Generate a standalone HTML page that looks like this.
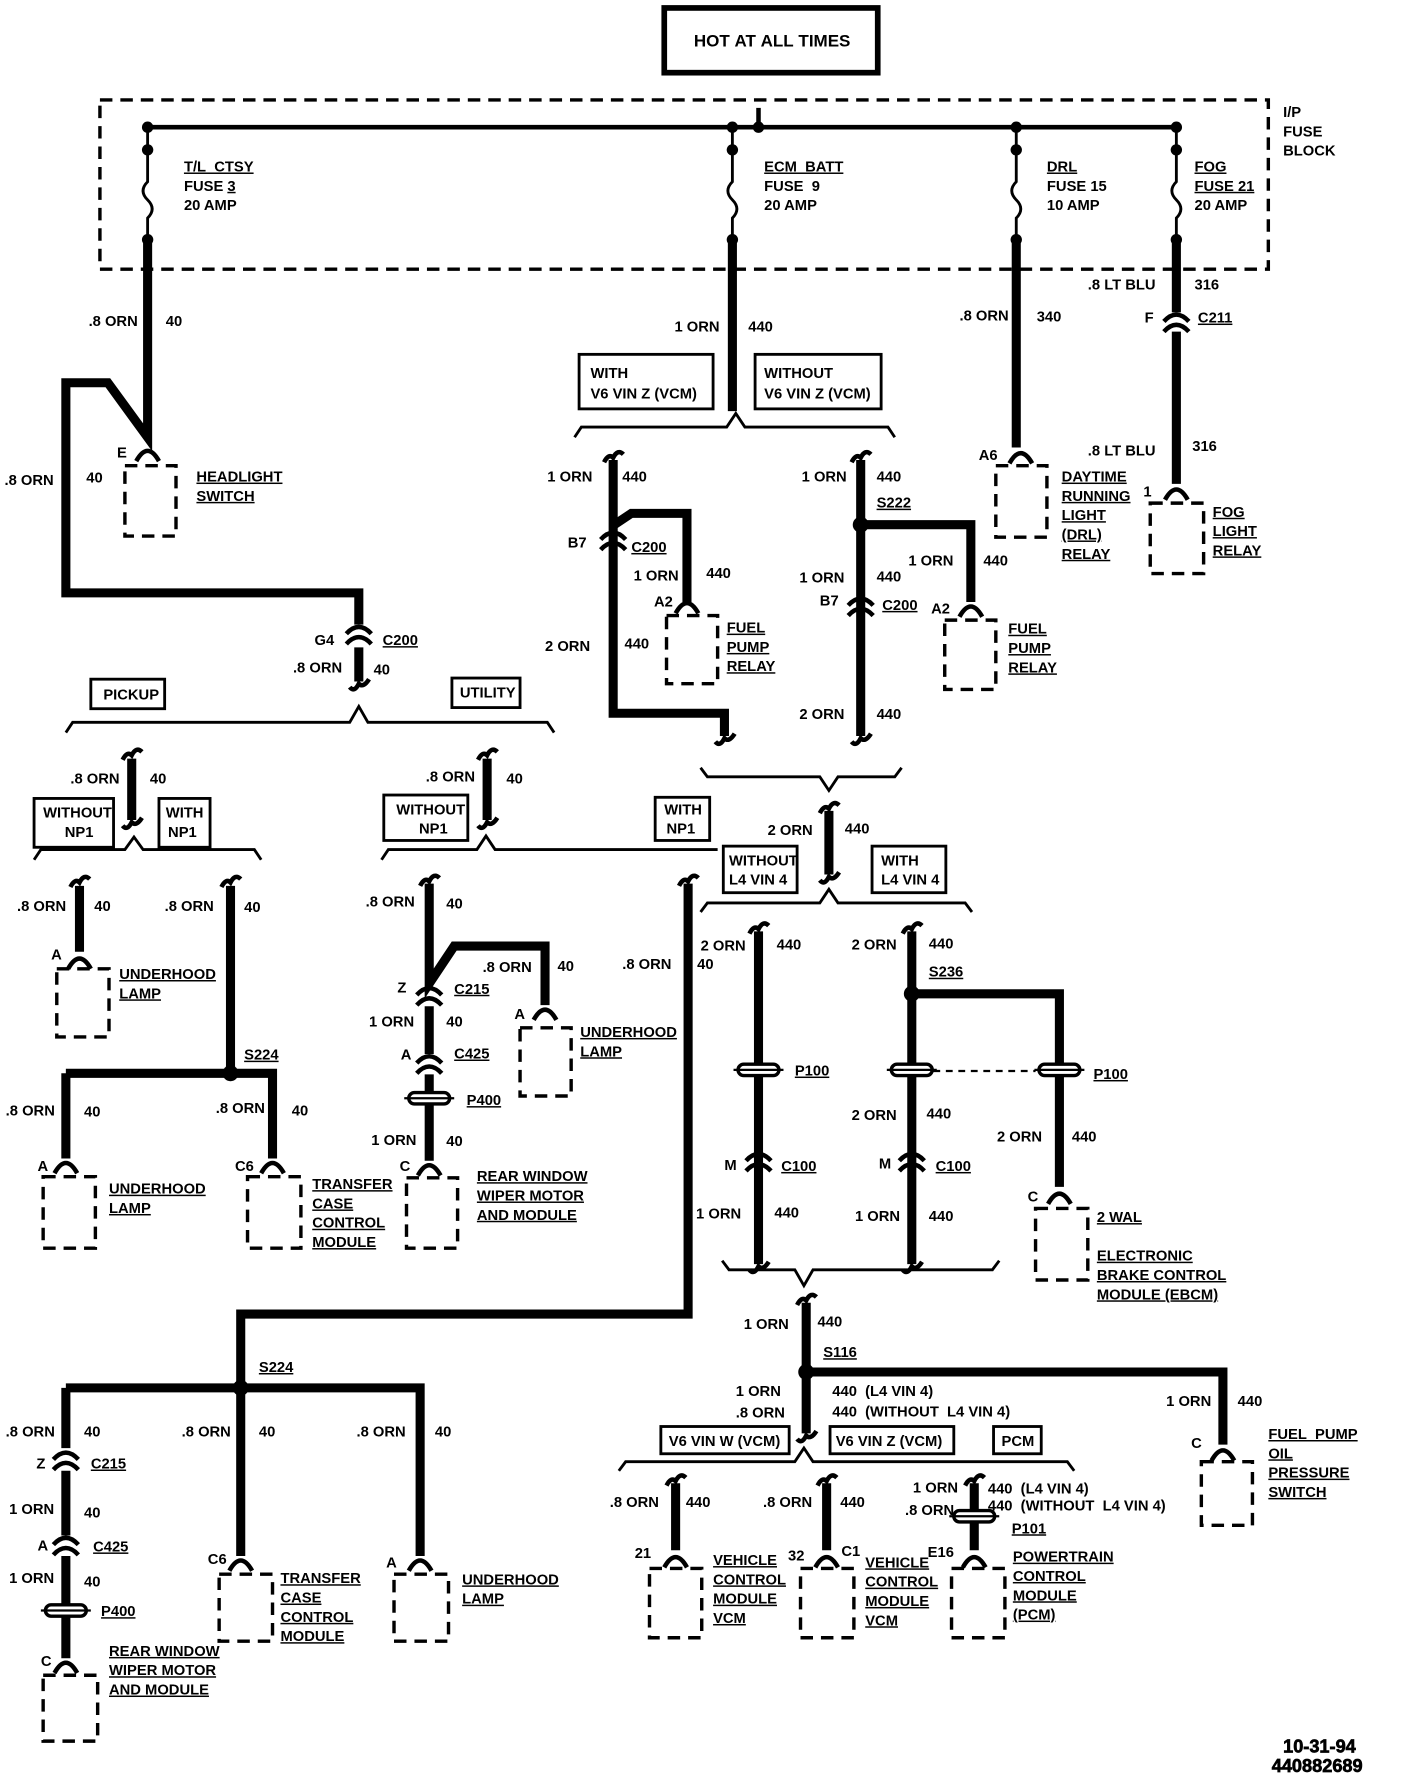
<!DOCTYPE html>
<html><head><meta charset="utf-8"><style>
html,body{margin:0;padding:0;background:#fff;}
svg{display:block;}
text{font-family:"Liberation Sans",Arial,sans-serif;font-weight:bold;font-size:13px;fill:#000;}
.u{text-decoration:underline;}
.w{stroke:#000;stroke-width:8;fill:none;}
.t{stroke:#000;stroke-width:2.5;fill:none;}
.b{stroke:#000;stroke-width:3;fill:none;stroke-dasharray:11,7;}
.bx{stroke:#000;stroke-width:2.5;fill:#fff;}
</style></head><body>
<svg width="1408" height="1782" viewBox="0 0 1240 1569" preserveAspectRatio="none" xmlns="http://www.w3.org/2000/svg">
<defs>
<g id="term"><path d="M-10,8 Q0,-10 10,8" stroke="#000" stroke-width="4" fill="#fff"/></g>
<g id="conn"><path d="M-11,0 Q0,-12 11,0 M-11,9 Q0,-3 11,9" stroke="#000" stroke-width="4" fill="none"/></g>
<g id="plug"><rect x="-18" y="-5" width="36" height="10" rx="5" fill="#fff" stroke="#000" stroke-width="3"/><line x1="-22" y1="0" x2="22" y2="0" stroke="#000" stroke-width="2"/></g>
<g id="hook"><path d="M-8,4 Q-4,-4 0,0 Q4,-8 9,-3" stroke="#000" stroke-width="4" fill="none"/></g>
<g id="hookb"><path d="M-8,3 Q-4,8 0,0 Q4,4 9,-4" stroke="#000" stroke-width="4" fill="none"/></g>
</defs>

<rect x="585" y="7" width="188" height="57" fill="none" stroke="#000" stroke-width="5"/>
<text x="680" y="41" text-anchor="middle" style="font-size:15px">HOT&#160;AT&#160;ALL&#160;TIMES</text>

<rect x="88" y="88" width="1029" height="149" class="b"/>
<text x="1130" y="103">I/P</text><text x="1130" y="120">FUSE</text><text x="1130" y="137">BLOCK</text>
<line x1="130" y1="112" x2="1036" y2="112" stroke="#000" stroke-width="4"/>
<line x1="668" y1="95" x2="668" y2="112" stroke="#000" stroke-width="4"/>
<g fill="#000">
<circle cx="130" cy="112" r="5"/><circle cx="645" cy="112" r="5"/><circle cx="668" cy="112" r="5"/><circle cx="895" cy="112" r="5"/><circle cx="1036" cy="112" r="5"/>
<circle cx="130" cy="132" r="5"/><circle cx="645" cy="132" r="5"/><circle cx="895" cy="132" r="5"/><circle cx="1036" cy="132" r="5"/>
<circle cx="130" cy="211" r="5"/><circle cx="645" cy="211" r="5"/><circle cx="895" cy="211" r="5"/><circle cx="1036" cy="211" r="5"/>
</g>
<g stroke="#000" stroke-width="2.5" fill="none">
<path d="M130,112V160 q-8,8 0,16 q8,8 0,16 V211"/>
<path d="M645,112V160 q-8,8 0,16 q8,8 0,16 V211"/>
<path d="M895,112V160 q-8,8 0,16 q8,8 0,16 V211"/>
<path d="M1036,112V160 q-8,8 0,16 q8,8 0,16 V211"/>
</g>
<text x="162" y="151" class="u">T/L&#160;&#160;CTSY</text><text x="162" y="168">FUSE&#160;<tspan class="u">3</tspan></text><text x="162" y="185">20 AMP</text>
<text x="673" y="151" class="u">ECM&#160;&#160;BATT</text><text x="673" y="168">FUSE&#160;&#160;9</text><text x="673" y="185">20 AMP</text>
<text x="922" y="151" class="u">DRL</text><text x="922" y="168">FUSE 15</text><text x="922" y="185">10 AMP</text>
<text x="1052" y="151" class="u">FOG</text><text x="1052" y="168" class="u">FUSE 21</text><text x="1052" y="185">20 AMP</text>

<path class="w" d="M130,211V385 L95,337 H58 V522 H316 V550"/>
<use href="#term" x="130" y="398"/>
<rect x="110" y="410" width="45" height="62" class="b"/>
<text x="78" y="287">.8 ORN</text><text x="146" y="287">40</text>
<text x="4" y="427">.8 ORN</text><text x="76" y="425">40</text>
<text x="103" y="403">E</text>
<text x="173" y="424" class="u">HEADLIGHT</text><text x="173" y="441" class="u">SWITCH</text>
<use href="#conn" x="316" y="558"/>
<path class="w" d="M316,570V600"/>
<use href="#hookb" x="316" y="602"/>
<text x="277" y="568">G4</text><text x="337" y="568" class="u">C200</text>
<text x="258" y="592">.8 ORN</text><text x="329" y="594">40</text>

<polyline class="t" points="58,645 64,636 308,636 316,622 324,636 482,636 488,645"/>
<rect x="80" y="598" width="65" height="26" class="bx"/><text x="91" y="616">PICKUP</text>
<rect x="398" y="597" width="60" height="26" class="bx"/><text x="405" y="614">UTILITY</text>

<path class="w" d="M116,668V722"/><use href="#hook" x="116" y="665"/><use href="#hookb" x="116" y="724"/>
<text x="62" y="690">.8 ORN</text><text x="132" y="690">40</text>
<polyline class="t" points="30,757 36,748 110,748 118,737 126,748 224,748 230,757"/>
<rect x="30" y="703" width="70" height="43" class="bx"/><text x="38" y="720">WITHOUT</text><text x="57" y="737">NP1</text>
<rect x="140" y="703" width="45" height="43" class="bx"/><text x="146" y="720">WITH</text><text x="148" y="737">NP1</text>
<path class="w" d="M70,780V838"/><use href="#hook" x="70" y="777"/>
<use href="#term" x="70" y="845"/><rect x="50" y="853" width="46" height="60" class="b"/>
<text x="15" y="802">.8 ORN</text><text x="83" y="802">40</text><text x="45" y="845">A</text>
<text x="105" y="862" class="u">UNDERHOOD</text><text x="105" y="879" class="u">LAMP</text>
<path class="w" d="M203,780V945 M58,945H203 M58,945V1020 M203,945H240V1020"/><use href="#hook" x="203" y="777"/>
<circle cx="203" cy="945" r="7"/>
<text x="145" y="802">.8 ORN</text><text x="215" y="803">40</text>
<text x="215" y="933" class="u">S224</text>
<text x="5" y="982">.8 ORN</text><text x="74" y="983">40</text>
<text x="190" y="980">.8 ORN</text><text x="257" y="982">40</text>
<use href="#term" x="58" y="1025"/><rect x="38" y="1036" width="46" height="63" class="b"/><text x="33" y="1031">A</text>
<text x="96" y="1051" class="u">UNDERHOOD</text><text x="96" y="1068" class="u">LAMP</text>
<use href="#term" x="240" y="1025"/><rect x="218" y="1036" width="47" height="63" class="b"/><text x="207" y="1031">C6</text>
<text x="275" y="1047" class="u">TRANSFER</text><text x="275" y="1064" class="u">CASE</text><text x="275" y="1081" class="u">CONTROL</text><text x="275" y="1098" class="u">MODULE</text>

<path class="w" d="M429,668V722"/><use href="#hook" x="429" y="665"/><use href="#hookb" x="429" y="724"/>
<text x="375" y="688">.8 ORN</text><text x="446" y="690">40</text>
<polyline class="t" points="336,757 342,748 420,748 428,736 436,748 632,748"/>
<rect x="338" y="700" width="74" height="40" class="bx"/><text x="349" y="717">WITHOUT</text><text x="369" y="734">NP1</text>
<rect x="577" y="702" width="48" height="38" class="bx"/><text x="585" y="717">WITH</text><text x="587" y="734">NP1</text>
<path class="w" d="M378,778V866 L400,833 H480 V885"/><use href="#hook" x="378" y="776"/>
<use href="#conn" x="378" y="876"/><path class="w" d="M378,886V928"/>
<use href="#conn" x="378" y="936"/><path class="w" d="M378,946V1022"/>
<use href="#plug" x="378" y="967"/>
<text x="322" y="798">.8 ORN</text><text x="393" y="800">40</text>
<text x="425" y="856">.8 ORN</text><text x="491" y="855">40</text>
<text x="350" y="874">Z</text><text x="400" y="875" class="u">C215</text>
<text x="325" y="904">1 ORN</text><text x="393" y="904">40</text>
<text x="353" y="933">A</text><text x="400" y="932" class="u">C425</text>
<text x="411" y="973" class="u">P400</text>
<text x="327" y="1008">1 ORN</text><text x="393" y="1009">40</text>
<use href="#term" x="378" y="1027"/><rect x="358" y="1037" width="45" height="62" class="b"/><text x="352" y="1031">C</text>
<text x="420" y="1040" class="u">REAR WINDOW</text><text x="420" y="1057" class="u">WIPER MOTOR</text><text x="420" y="1074" class="u">AND MODULE</text>
<use href="#term" x="480" y="890"/><rect x="458" y="905" width="45" height="60" class="b"/><text x="453" y="897">A</text>
<text x="511" y="913" class="u">UNDERHOOD</text><text x="511" y="930" class="u">LAMP</text>

<path class="w" d="M606,778V1157 H212 V1370 M58,1222H370 V1370 M58,1222V1275"/><use href="#hook" x="606" y="776"/>
<circle cx="212" cy="1222" r="7"/>
<text x="548" y="853">.8 ORN</text><text x="614" y="853">40</text>
<text x="228" y="1208" class="u">S224</text>
<use href="#conn" x="58" y="1285"/><path class="w" d="M58,1295V1352"/>
<use href="#conn" x="58" y="1360"/><path class="w" d="M58,1370V1460"/>
<use href="#plug" x="58" y="1418"/>
<text x="5" y="1265">.8 ORN</text><text x="74" y="1265">40</text>
<text x="32" y="1293">Z</text><text x="80" y="1293" class="u">C215</text>
<text x="8" y="1333">1 ORN</text><text x="74" y="1336">40</text>
<text x="33" y="1365">A</text><text x="82" y="1366" class="u">C425</text>
<text x="8" y="1394">1 ORN</text><text x="74" y="1397">40</text>
<text x="89" y="1423" class="u">P400</text>
<use href="#term" x="58" y="1465"/><rect x="38" y="1475" width="48" height="58" class="b"/><text x="36" y="1467">C</text>
<text x="96" y="1458" class="u">REAR WINDOW</text><text x="96" y="1475" class="u">WIPER MOTOR</text><text x="96" y="1492" class="u">AND MODULE</text>
<text x="160" y="1265">.8 ORN</text><text x="228" y="1265">40</text>
<use href="#term" x="212" y="1375"/><rect x="193" y="1386" width="47" height="59" class="b"/><text x="183" y="1377">C6</text>
<text x="247" y="1394" class="u">TRANSFER</text><text x="247" y="1411" class="u">CASE</text><text x="247" y="1428" class="u">CONTROL</text><text x="247" y="1445" class="u">MODULE</text>
<text x="314" y="1265">.8 ORN</text><text x="383" y="1265">40</text>
<use href="#term" x="370" y="1375"/><rect x="347" y="1386" width="48" height="59" class="b"/><text x="340" y="1380">A</text>
<text x="407" y="1395" class="u">UNDERHOOD</text><text x="407" y="1412" class="u">LAMP</text>

<path class="w" d="M645,211V362"/>
<text x="594" y="292">1 ORN</text><text x="659" y="292">440</text>
<rect x="510" y="312" width="118" height="48" class="bx"/><text x="520" y="333">WITH</text><text x="520" y="351">V6 VIN Z (VCM)</text>
<rect x="665" y="312" width="111" height="48" class="bx"/><text x="673" y="333">WITHOUT</text><text x="673" y="351">V6 VIN Z (VCM)</text>
<polyline class="t" points="506,385 512,376 640,376 648,364 656,376 782,376 788,385"/>
<path class="w" d="M540,405V628 H638 V648"/><use href="#hook" x="540" y="403"/><use href="#hookb" x="638" y="650"/>
<path class="w" d="M541,462 L556,452 H605 V530"/>
<use href="#conn" x="540" y="475"/>
<text x="482" y="424">1 ORN</text><text x="548" y="424">440</text>
<text x="500" y="482">B7</text><text x="556" y="486" class="u">C200</text>
<text x="558" y="511">1 ORN</text><text x="622" y="509">440</text>
<text x="480" y="573">2 ORN</text><text x="550" y="571">440</text>
<use href="#term" x="605" y="532"/><rect x="587" y="542" width="45" height="60" class="b"/><text x="576" y="534">A2</text>
<text x="640" y="557" class="u">FUEL</text><text x="640" y="574" class="u">PUMP</text><text x="640" y="591" class="u">RELAY</text>
<path class="w" d="M758,405V648 M758,462H855 V530"/><use href="#hook" x="758" y="403"/><use href="#hookb" x="758" y="650"/>
<circle cx="758" cy="462" r="7"/>
<use href="#conn" x="758" y="533"/>
<text x="706" y="424">1 ORN</text><text x="772" y="424">440</text>
<text x="772" y="447" class="u">S222</text>
<text x="800" y="498">1 ORN</text><text x="866" y="498">440</text>
<text x="704" y="513">1 ORN</text><text x="772" y="512">440</text>
<text x="722" y="533">B7</text><text x="777" y="537" class="u">C200</text>
<text x="704" y="633">2 ORN</text><text x="772" y="633">440</text>
<use href="#term" x="855" y="535"/><rect x="832" y="546" width="45" height="61" class="b"/><text x="820" y="540">A2</text>
<text x="888" y="558" class="u">FUEL</text><text x="888" y="575" class="u">PUMP</text><text x="888" y="592" class="u">RELAY</text>
<polyline class="t" points="617,676 623,684 722,684 730,696 738,684 788,684 794,676"/>
<path class="w" d="M730,714V770"/><use href="#hook" x="730" y="712"/><use href="#hookb" x="730" y="772"/>
<text x="676" y="735">2 ORN</text><text x="744" y="734">440</text>
<rect x="637" y="745" width="65" height="41" class="bx"/><text x="642" y="762">WITHOUT</text><text x="642" y="779">L4 VIN 4</text>
<rect x="768" y="745" width="65" height="41" class="bx"/><text x="776" y="762">WITH</text><text x="776" y="779">L4 VIN 4</text>
<polyline class="t" points="617,803 623,795 722,795 730,783 738,795 850,795 856,803"/>
<path class="w" d="M668,820V1113"/><use href="#hook" x="668" y="818"/><use href="#hookb" x="668" y="1115"/>
<path class="w" d="M803,820V1113 M803,875H933 V1045"/><use href="#hook" x="803" y="818"/><use href="#hookb" x="803" y="1115"/>
<circle cx="803" cy="875" r="7"/>
<line x1="822" y1="943" x2="912" y2="943" stroke="#000" stroke-width="2" stroke-dasharray="6,5"/>
<use href="#plug" x="668" y="942"/><use href="#plug" x="803" y="942"/><use href="#plug" x="933" y="942"/>
<use href="#conn" x="668" y="1022"/><use href="#conn" x="803" y="1022"/>
<text x="617" y="837">2 ORN</text><text x="684" y="836">440</text>
<text x="750" y="836">2 ORN</text><text x="818" y="835">440</text>
<text x="818" y="860" class="u">S236</text>
<text x="700" y="947" class="u">P100</text><text x="963" y="950" class="u">P100</text>
<text x="750" y="986">2 ORN</text><text x="816" y="985">440</text>
<text x="878" y="1005">2 ORN</text><text x="944" y="1005">440</text>
<text x="638" y="1030">M</text><text x="688" y="1031" class="u">C100</text>
<text x="774" y="1029">M</text><text x="824" y="1031" class="u">C100</text>
<text x="613" y="1073">1 ORN</text><text x="682" y="1072">440</text>
<text x="753" y="1075">1 ORN</text><text x="818" y="1075">440</text>
<use href="#term" x="933" y="1052"/><rect x="912" y="1064" width="46" height="63" class="b"/><text x="905" y="1058">C</text>
<text x="966" y="1076" class="u">2 WAL</text>
<text x="966" y="1110" class="u">ELECTRONIC</text><text x="966" y="1127" class="u">BRAKE CONTROL</text><text x="966" y="1144" class="u">MODULE (EBCM)</text>
<polyline class="t" points="636,1110 642,1118 700,1118 708,1132 716,1118 874,1118 880,1110"/>
<path class="w" d="M710,1147V1262 M710,1208H1077 V1272"/><use href="#hook" x="710" y="1145"/><use href="#hookb" x="710" y="1264"/>
<circle cx="710" cy="1208" r="7"/>
<text x="655" y="1170">1 ORN</text><text x="720" y="1168">440</text>
<text x="725" y="1195" class="u">S116</text>
<text x="648" y="1229">1 ORN</text><text x="733" y="1229">440 &#160;(L4 VIN 4)</text>
<text x="648" y="1248">.8 ORN</text><text x="733" y="1247">440 &#160;(WITHOUT &#160;L4 VIN 4)</text>
<text x="1027" y="1238">1 ORN</text><text x="1090" y="1238">440</text>
<use href="#term" x="1077" y="1278"/><rect x="1058" y="1287" width="45" height="56" class="b"/><text x="1049" y="1275">C</text>
<text x="1117" y="1267" class="u">FUEL&#160;&#160;PUMP</text><text x="1117" y="1284" class="u">OIL</text><text x="1117" y="1301" class="u">PRESSURE</text><text x="1117" y="1318" class="u">SWITCH</text>
<polyline class="t" points="545,1295 551,1287 700,1287 708,1275 716,1287 940,1287 946,1295"/>
<rect x="582" y="1256" width="113" height="24" class="bx"/><text x="589" y="1273">V6 VIN W (VCM)</text>
<rect x="731" y="1256" width="109" height="24" class="bx"/><text x="736" y="1273">V6 VIN Z (VCM)</text>
<rect x="875" y="1256" width="42" height="24" class="bx"/><text x="882" y="1273">PCM</text>
<path class="w" d="M595,1306V1365"/><use href="#hook" x="595" y="1304"/>
<path class="w" d="M728,1306V1365"/><use href="#hook" x="728" y="1304"/>
<path class="w" d="M858,1306V1365"/><use href="#hook" x="858" y="1304"/>
<use href="#plug" x="858" y="1335"/>
<text x="537" y="1327">.8 ORN</text><text x="604" y="1327">440</text>
<text x="672" y="1327">.8 ORN</text><text x="740" y="1327">440</text>
<text x="804" y="1314">1 ORN</text><text x="797" y="1334">.8 ORN</text>
<text x="870" y="1315">440 &#160;(L4 VIN 4)</text><text x="870" y="1330">440 &#160;(WITHOUT &#160;L4 VIN 4)</text>
<text x="891" y="1350" class="u">P101</text>
<use href="#term" x="595" y="1372"/><rect x="572" y="1381" width="46" height="61" class="b"/><text x="559" y="1372">21</text>
<text x="628" y="1378" class="u">VEHICLE</text><text x="628" y="1395" class="u">CONTROL</text><text x="628" y="1412" class="u">MODULE</text><text x="628" y="1429" class="u">VCM</text>
<use href="#term" x="728" y="1372"/><rect x="705" y="1381" width="47" height="61" class="b"/><text x="694" y="1374">32</text><text x="741" y="1370">C1</text>
<text x="762" y="1380" class="u">VEHICLE</text><text x="762" y="1397" class="u">CONTROL</text><text x="762" y="1414" class="u">MODULE</text><text x="762" y="1431" class="u">VCM</text>
<use href="#term" x="858" y="1372"/><rect x="838" y="1381" width="47" height="61" class="b"/><text x="817" y="1371">E16</text>
<text x="892" y="1375" class="u">POWERTRAIN</text><text x="892" y="1392" class="u">CONTROL</text><text x="892" y="1409" class="u">MODULE</text><text x="892" y="1426" class="u">(PCM)</text>

<path class="w" d="M895,211V394"/>
<text x="845" y="282">.8 ORN</text><text x="913" y="283">340</text>
<use href="#term" x="899" y="400"/><rect x="877" y="410" width="45" height="63" class="b"/><text x="862" y="405">A6</text>
<text x="935" y="424" class="u">DAYTIME</text><text x="935" y="441" class="u">RUNNING</text><text x="935" y="458" class="u">LIGHT</text><text x="935" y="475" class="u">(DRL)</text><text x="935" y="492" class="u">RELAY</text>
<path class="w" d="M1036,211V275 M1036,292V426"/>
<use href="#conn" x="1036" y="283"/>
<text x="958" y="255">.8 LT BLU</text><text x="1052" y="255">316</text>
<text x="1008" y="284">F</text><text x="1055" y="284" class="u">C211</text>
<text x="958" y="401">.8 LT BLU</text><text x="1050" y="397">316</text>
<use href="#term" x="1036" y="432"/><rect x="1013" y="443" width="47" height="62" class="b"/><text x="1007" y="437">1</text>
<text x="1068" y="455" class="u">FOG</text><text x="1068" y="472" class="u">LIGHT</text><text x="1068" y="489" class="u">RELAY</text>

<text x="1130" y="1543" style="font-size:16px;font-weight:900" stroke="#000" stroke-width="0.6">10-31-94</text>
<text x="1120" y="1560" style="font-size:16px;font-weight:900" stroke="#000" stroke-width="0.6">440882689</text>
</svg>
</body></html>
